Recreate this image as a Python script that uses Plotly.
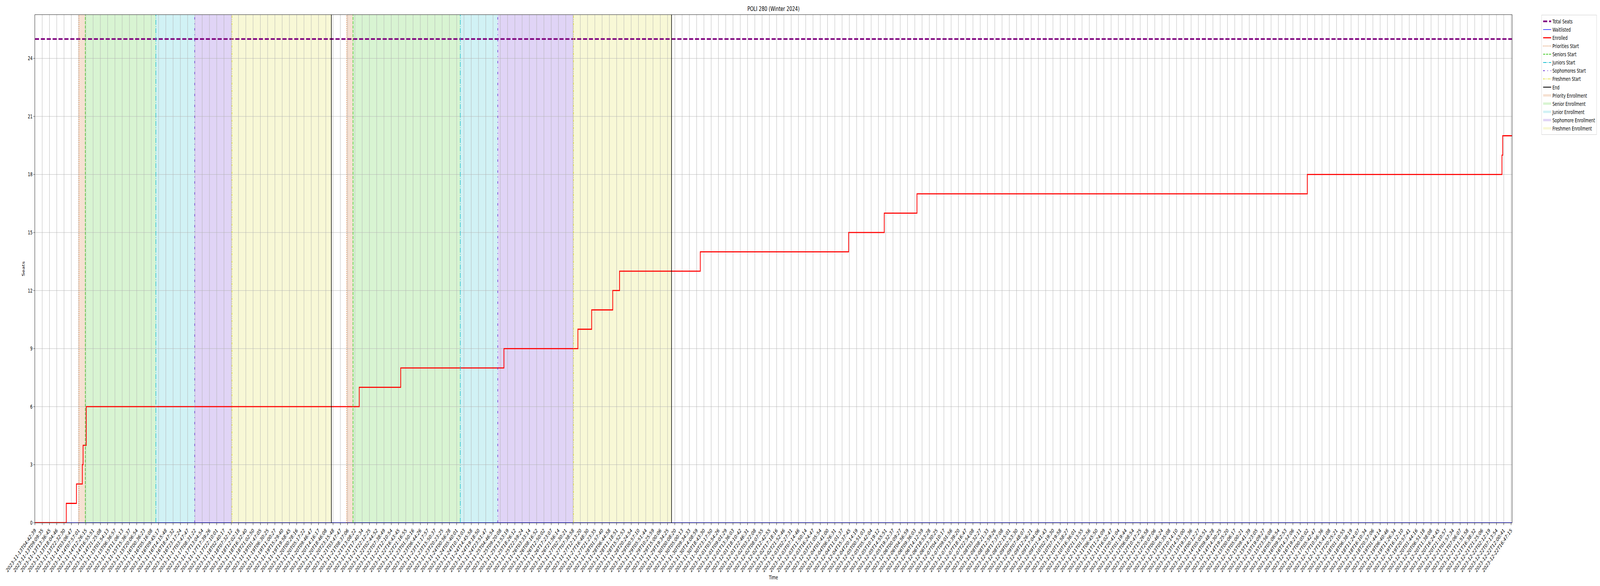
import plotly.graph_objects as go

title = "POLI 280 (Winter 2024)"

# labels under the time axis, one per tick
time_labels = [
    "2023-11-13T04:42:39", "2023-11-13T09:09:35", "2023-11-13T13:36:45", "2023-11-13T18:04:46",
    "2023-11-13T22:32:30", "2023-11-14T03:06:47", "2023-11-14T07:57:01", "2023-11-14T12:26:15",
    "2023-11-14T16:55:51", "2023-11-14T21:25:08", "2023-11-15T01:54:13", "2023-11-15T06:36:57",
    "2023-11-15T11:06:13", "2023-11-15T15:36:37", "2023-11-15T20:06:54", "2023-11-16T00:36:23",
    "2023-11-16T05:16:08", "2023-11-16T09:45:17", "2023-11-16T14:15:48", "2023-11-16T18:47:32",
    "2023-11-16T23:17:24", "2023-11-17T03:47:47", "2023-11-17T08:31:22", "2023-11-17T13:04:54",
    "2023-11-17T17:39:26", "2023-11-17T22:10:01", "2023-11-18T02:40:17", "2023-11-18T07:32:12",
    "2023-11-18T12:02:18", "2023-11-18T16:32:40", "2023-11-18T21:02:50", "2023-11-19T01:47:05",
    "2023-11-19T06:30:25", "2023-11-19T11:00:27", "2023-11-19T15:29:40", "2023-11-19T19:58:45",
    "2023-11-20T00:28:16", "2023-11-20T05:17:22", "2023-11-20T09:46:47", "2023-11-20T14:16:17",
    "2023-11-20T18:46:08", "2023-11-20T23:15:48", "2023-11-21T03:47:47", "2023-11-21T08:37:06",
    "2023-11-21T13:08:22", "2023-11-21T17:40:34", "2023-11-21T22:12:25", "2023-11-22T02:44:52",
    "2023-11-22T07:38:49", "2023-11-22T12:10:54", "2023-11-22T16:43:45", "2023-11-22T21:16:55",
    "2023-11-23T01:50:16", "2023-11-23T06:44:26", "2023-11-23T11:17:57", "2023-11-23T15:50:37",
    "2023-11-23T20:23:25", "2023-11-24T00:56:28", "2023-11-24T05:40:01", "2023-11-24T10:13:03",
    "2023-11-24T14:45:58", "2023-11-24T19:18:50", "2023-11-24T23:51:47", "2023-11-25T04:46:54",
    "2023-11-25T09:20:08", "2023-11-25T13:53:19", "2023-11-25T18:26:12", "2023-11-25T22:59:24",
    "2023-11-26T03:33:14", "2023-11-26T08:16:52", "2023-11-26T12:50:02", "2023-11-26T17:23:07",
    "2023-11-26T21:56:14", "2023-11-27T02:30:21", "2023-11-27T07:38:58", "2023-11-27T12:13:20",
    "2023-11-27T16:48:30", "2023-11-27T21:23:35", "2023-11-28T01:57:40", "2023-11-28T06:44:58",
    "2023-11-28T11:18:51", "2023-11-28T15:52:53", "2023-11-28T20:24:54", "2023-11-29T00:57:10",
    "2023-11-29T05:51:44", "2023-11-29T10:25:59", "2023-11-29T15:00:06", "2023-11-29T19:34:25",
    "2023-11-30T00:08:20", "2023-11-30T05:00:13", "2023-11-30T09:34:33", "2023-11-30T14:08:59",
    "2023-11-30T18:43:30", "2023-11-30T23:17:50", "2023-12-01T03:54:26", "2023-12-01T09:01:29",
    "2023-12-01T13:36:03", "2023-12-01T18:10:42", "2023-12-01T22:46:31", "2023-12-02T03:22:08",
    "2023-12-02T08:07:55", "2023-12-02T12:42:55", "2023-12-02T17:18:16", "2023-12-02T21:52:46",
    "2023-12-03T02:27:31", "2023-12-03T07:14:46", "2023-12-03T11:50:14", "2023-12-03T16:24:47",
    "2023-12-03T21:05:54", "2023-12-04T01:41:00", "2023-12-04T06:26:31", "2023-12-04T11:01:37",
    "2023-12-04T15:37:45", "2023-12-04T20:14:19", "2023-12-05T00:51:03", "2023-12-05T05:42:04",
    "2023-12-05T10:19:12", "2023-12-05T14:55:51", "2023-12-05T19:32:37", "2023-12-06T00:09:27",
    "2023-12-06T04:56:59", "2023-12-06T09:36:03", "2023-12-06T14:12:59", "2023-12-06T18:53:28",
    "2023-12-06T23:30:25", "2023-12-07T04:10:17", "2023-12-07T09:01:56", "2023-12-07T13:39:20",
    "2023-12-07T18:16:47", "2023-12-07T22:54:08", "2023-12-08T03:32:27", "2023-12-08T08:21:33",
    "2023-12-08T12:59:26", "2023-12-08T17:37:08", "2023-12-08T22:15:01", "2023-12-09T02:53:30",
    "2023-12-09T07:48:07", "2023-12-09T12:26:21", "2023-12-09T17:04:06", "2023-12-09T21:41:43",
    "2023-12-10T02:19:30", "2023-12-10T07:19:58", "2023-12-10T11:58:27", "2023-12-10T16:36:01",
    "2023-12-10T21:13:55", "2023-12-11T01:52:56", "2023-12-11T06:45:50", "2023-12-11T11:24:09",
    "2023-12-11T16:02:47", "2023-12-11T20:41:04", "2023-12-12T01:19:44", "2023-12-12T06:08:54",
    "2023-12-12T10:47:25", "2023-12-12T15:26:58", "2023-12-12T20:07:06", "2023-12-13T00:46:24",
    "2023-12-13T05:35:08", "2023-12-13T10:14:10", "2023-12-13T14:53:00", "2023-12-13T19:31:36",
    "2023-12-14T00:12:27", "2023-12-14T05:05:51", "2023-12-14T09:48:28", "2023-12-14T14:30:25",
    "2023-12-14T19:25:20", "2023-12-15T00:06:17", "2023-12-15T05:00:21", "2023-12-15T09:41:39",
    "2023-12-15T14:23:05", "2023-12-15T19:09:27", "2023-12-15T23:56:08", "2023-12-16T05:06:54",
    "2023-12-16T09:52:53", "2023-12-16T14:37:06", "2023-12-16T19:21:11", "2023-12-17T00:05:02",
    "2023-12-17T05:42:47", "2023-12-17T10:56:36", "2023-12-17T15:41:08", "2023-12-17T20:25:21",
    "2023-12-18T01:10:55", "2023-12-18T06:38:19", "2023-12-18T11:24:07", "2023-12-18T16:10:34",
    "2023-12-18T20:57:06", "2023-12-19T01:44:14", "2023-12-19T06:40:46", "2023-12-19T11:26:34",
    "2023-12-19T16:12:10", "2023-12-19T20:57:41", "2023-12-20T01:44:16", "2023-12-20T06:51:18",
    "2023-12-20T11:38:08", "2023-12-20T16:24:45", "2023-12-20T21:10:57", "2023-12-21T01:57:34",
    "2023-12-21T07:06:07", "2023-12-21T11:51:58", "2023-12-21T16:38:32", "2023-12-21T21:25:06",
    "2023-12-22T02:12:19", "2023-12-22T07:13:54", "2023-12-22T12:00:41", "2023-12-22T16:47:15",
]

# positions on the time axis are counted in label steps (0 = first label)
last_sample = 203.13
total_seats = 25

enrolled_t = [0, 4.31, 5.71, 6.52, 6.62, 7.06, 44.6, 50.3, 64.5, 74.67, 76.56, 79.46,
              80.40, 91.5, 111.9, 116.8, 121.3, 174.98, 201.75, 201.85, last_sample]
enrolled_n = [0, 1, 2, 3, 4, 6, 7, 8, 9, 10, 11, 12,
              13, 14, 15, 16, 17, 18, 19, 20, 20]

waitlisted_t = [0, last_sample]
waitlisted_n = [0, 0]

# enrollment phases (first pass, second pass)
priorities_start = [6.05, 42.87]
seniors_start = [6.93, 43.74]
juniors_start = [16.63, 58.5]
sophomores_start = [21.97, 63.65]
freshmen_start = [27.1, 74.07]
end_times = [40.77, 87.55]

y_ticks = [0, 3, 6, 9, 12, 15, 18, 21, 24]

W, H = 6000, 1500
FONT = "DejaVu Sans"
phases = [
    # name of line, name of band, starts, stops, rgb, dash
    ("Priorities Start", "Priority Enrollment", priorities_start, seniors_start,
     (210, 105, 30), "2px,3.4px"),
    ("Seniors Start", "Senior Enrollment", seniors_start, juniors_start,
     (60, 200, 30), "7.7px,3.3px"),
    ("Juniors Start", "Junior Enrollment", juniors_start, sophomores_start,
     (23, 190, 207), "13px,3.3px,2px,3.3px"),
    ("Sophomores Start", "Sophomore Enrollment", sophomores_start, freshmen_start,
     (100, 40, 210), "6px,10px,2px,10px"),
    ("Freshmen Start", "Freshmen Enrollment", freshmen_start, end_times,
     (220, 220, 50), "6px,3px,2px,3px,2px,3px"),
]

fig = go.Figure()

fig.add_trace(go.Scatter(x=[0, last_sample], y=[total_seats, total_seats], mode="lines",
                         name="Total Seats",
                         line=dict(color="purple", width=4.2, dash="15.4px,6.7px")))
fig.add_trace(go.Scatter(x=waitlisted_t, y=waitlisted_n, mode="lines", name="Waitlisted",
                         line=dict(color="blue", width=1.4, shape="hv")))
fig.add_trace(go.Scatter(x=enrolled_t, y=enrolled_n, mode="lines", name="Enrolled",
                         line=dict(color="red", width=2.8, shape="hv")))

shapes = []
for line_name, band_name, starts, stops, rgb, dash in phases:
    col = "rgb(%d,%d,%d)" % rgb
    fill = "rgba(%d,%d,%d,0.2)" % rgb
    for a, b in zip(starts, stops):
        shapes.append(dict(type="rect", xref="x", yref="paper", x0=a, x1=b, y0=0, y1=1,
                           fillcolor=fill, line=dict(width=0), layer="below"))
        shapes.append(dict(type="line", xref="x", yref="paper", x0=a, x1=a, y0=0, y1=1,
                           line=dict(color=col, width=2, dash=dash), layer="above"))
    fig.add_trace(go.Scatter(x=[None], y=[None], mode="lines", name=line_name,
                             line=dict(color=col, width=2, dash=dash)))

for t in end_times:
    shapes.append(dict(type="line", xref="x", yref="paper", x0=t, x1=t, y0=0, y1=1,
                       line=dict(color="black", width=2.1), layer="above"))
fig.add_trace(go.Scatter(x=[None], y=[None], mode="lines", name="End",
                         line=dict(color="black", width=2.1)))

for line_name, band_name, starts, stops, rgb, dash in phases:
    fig.add_trace(go.Scatter(x=[None], y=[None], mode="none", name=band_name,
                             fill="toself", fillcolor="rgba(%d,%d,%d,0.2)" % rgb))

fig.update_layout(
    width=W, height=H,
    paper_bgcolor="white", plot_bgcolor="white",
    font=dict(family=FONT, size=13.9, color="black"),
    margin=dict(l=131, r=317, t=38, b=162),
    shapes=shapes,
    title=dict(text=title, x=0.5, xref="paper", xanchor="center",
               y=1 - 22 / H, yref="container", yanchor="middle",
               font=dict(family=FONT, size=16.7, color="black")),
    legend=dict(x=1.02, y=1.0, xanchor="left", yanchor="top",
                bgcolor="white", bordercolor="#cccccc", borderwidth=1,
                font=dict(family=FONT, size=13.9), tracegroupgap=0),
    showlegend=True,
)

fig.update_xaxes(
    range=[0, last_sample], tickmode="array",
    tickvals=list(range(len(time_labels))), ticktext=time_labels,
    tickangle=-45, ticks="outside", ticklen=5, tickcolor="black",
    showgrid=True, gridcolor="#b0b0b0", gridwidth=1.1, zeroline=False,
    showline=True, linecolor="black", linewidth=1.1, mirror=True,
    title=dict(text="Time", standoff=6, font=dict(family=FONT, size=13.9)),
    automargin=False,
)
fig.update_yaxes(
    range=[0, 26.25], tickmode="array", tickvals=y_ticks,
    ticks="outside", ticklen=5, tickcolor="black",
    showgrid=True, gridcolor="#b0b0b0", gridwidth=1.1, zeroline=False,
    showline=True, linecolor="black", linewidth=1.1, mirror=True,
    title=dict(text="Seats", standoff=8, font=dict(family=FONT, size=13.9)),
    automargin=False,
)

# the page is shown in whatever viewport the browser really has: shrink the
# 6000x1500 figure so all of it stays visible
fit_js = """
var gd = document.getElementById('{plot_id}');
var sx = window.innerWidth / %d, sy = window.innerHeight / %d;
document.documentElement.style.overflow = 'hidden';
document.body.style.margin = '0';
document.body.style.overflow = 'hidden';
var box = gd.parentElement;
box.style.width = window.innerWidth + 'px';
box.style.height = window.innerHeight + 'px';
box.style.overflow = 'hidden';
gd.style.transformOrigin = '0 0';
gd.style.transform = 'scale(' + sx + ',' + sy + ')';
""" % (W, H)

fig.write_html("out.html", post_script=fit_js, config={"displayModeBar": False})
